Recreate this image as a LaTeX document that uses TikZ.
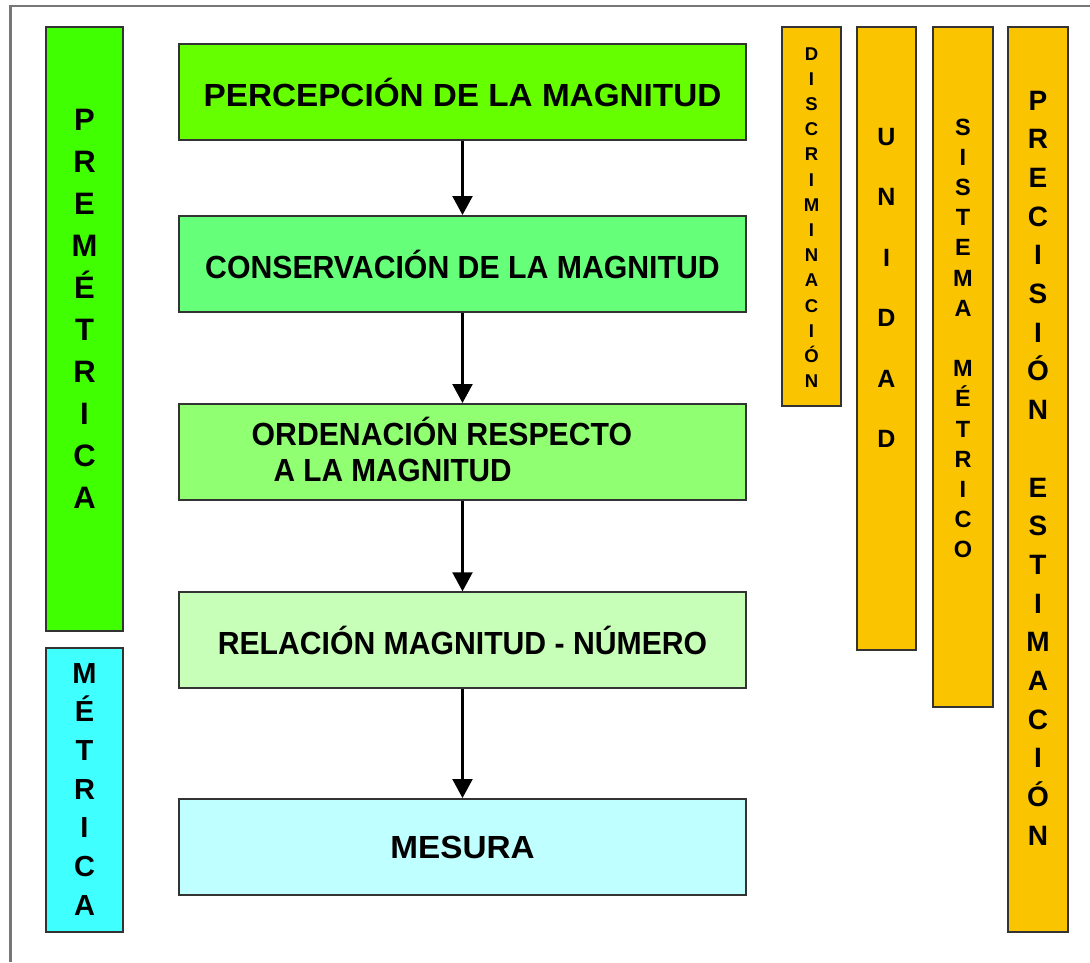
\documentclass[tikz,border=0pt]{standalone}
\usepackage{fontspec}
\usepackage{graphicx}
\setmainfont{Liberation Sans}
\usetikzlibrary{arrows.meta}
\definecolor{cpre}{HTML}{40FF00}
\definecolor{cbone}{HTML}{66FF00}
\definecolor{cbtwo}{HTML}{66FF7A}
\definecolor{cbthree}{HTML}{90FF72}
\definecolor{cbfour}{HTML}{C8FFB8}
\definecolor{cbfive}{HTML}{C0FFFF}
\definecolor{cmet}{HTML}{40FFFF}
\definecolor{corange}{HTML}{FAC400}
\definecolor{cframe}{HTML}{777777}
\definecolor{cedge}{HTML}{333333}
\newcommand\fsz[1]{\fontsize{#1}{#1}\selectfont\bfseries}
\begin{document}
\begin{tikzpicture}[x=1pt,y=-1pt,
  panel/.style={draw=cedge, line width=2pt, rectangle, inner sep=0pt},
  stepbox/.style={panel, minimum width=567pt, minimum height=96pt, font=\fsz{32}},
  flow/.style={-{Triangle[width=20pt,length=19pt]}, line width=2.2pt, black},
  vletter/.style={anchor=base, inner sep=0pt},
  btext/.style={anchor=base west, inner sep=0pt, font=\fsz{32}}
]
\useasboundingbox (0,0) rectangle (1090,962);
\fill[white] (0,0) rectangle (1090,962);
% outer frame
\draw[cframe, line width=2.5pt] (10.5,962) -- (10.5,6) -- (1090,6);

% left bars
\node[panel, fill=cpre, minimum width=77pt, minimum height=604pt] (pre) at (84.5,329) {};
\node[panel, fill=cmet, minimum width=77pt, minimum height=284pt] (met) at (84.5,790) {};
% right bars
\node[panel, fill=corange, minimum width=59pt, minimum height=379pt] (disc) at (811.5,216.5) {};
\node[panel, fill=corange, minimum width=59pt, minimum height=623pt] (uni) at (886.5,338.5) {};
\node[panel, fill=corange, minimum width=60pt, minimum height=680pt] (sis) at (963,367) {};
\node[panel, fill=corange, minimum width=60pt, minimum height=905pt] (prec) at (1038,479.5) {};

% main boxes
\node[stepbox, fill=cbone] (b1) at (462.5,92) {\scalebox{1.04}[1]{PERCEPCIÓN DE LA MAGNITUD}};
\node[stepbox, fill=cbtwo] (b2) at (462.5,264) {\scalebox{0.945}[1]{CONSERVACIÓN DE LA MAGNITUD}};
\node[stepbox, fill=cbthree] (b3) at (462.5,452) {};
\node[btext] (b3a) at (251.5,445) {\scalebox{0.944}[1]{ORDENACIÓN RESPECTO}};
\node[btext] (b3b) at (273.5,481.7) {\scalebox{0.93}[1]{A LA MAGNITUD}};
\node[stepbox, fill=cbfour] (b4) at (462.5,640.3) {\scalebox{0.943}[1]{RELACIÓN MAGNITUD - NÚMERO}};
\node[stepbox, fill=cbfive] (b5) at (462.5,847) {\scalebox{1.04}[1]{MESURA}};

% arrows
\draw[flow] (b1) -- (b2);
\draw[flow] (b2) -- (b3);
\draw[flow] (b3) -- (b4);
\draw[flow] (b4) -- (b5);

% vertical letters
\foreach \l/\i in {P/0,R/1,E/2,M/3,É/4,T/5,R/6,I/7,C/8,A/9}
  \node[vletter, font=\fsz{31}] (pre-\i) at (84.5,{130+42*\i}) {\l};
\foreach \l/\i in {M/0,É/1,T/2,R/3,I/4,C/5,A/6}
  \node[vletter, font=\fsz{29}] (met-\i) at (84.5,{683+38.7*\i}) {\l};
\foreach \l/\i in {D/0,I/1,S/2,C/3,R/4,I/5,M/6,I/7,N/8,A/9,C/10,I/11,Ó/12,N/13}
  \node[vletter, font=\fsz{18.5}] (disc-\i) at (811.5,{60+25.2*\i}) {\l};
\foreach \l/\i in {U/0,N/1,I/2,D/3,A/4,D/5}
  \node[vletter, font=\fsz{25}] (uni-\i) at (886.5,{145+60.5*\i}) {\l};
\foreach \l/\i in {S/0,I/1,S/2,T/3,E/4,M/5,A/6,M/8,É/9,T/10,R/11,I/12,C/13,O/14}
  \node[vletter, font=\fsz{23.5}] (sis-\i) at (963,{135+30.2*\i}) {\l};
\foreach \l/\i in {P/0,R/1,E/2,C/3,I/4,S/5,I/6,Ó/7,N/8,E/10,S/11,T/12,I/13,M/14,A/15,C/16,I/17,Ó/18,N/19}
  \node[vletter, font=\fsz{28}] (prec-\i) at (1038,{110+38.7*\i}) {\l};
\end{tikzpicture}
\end{document}
